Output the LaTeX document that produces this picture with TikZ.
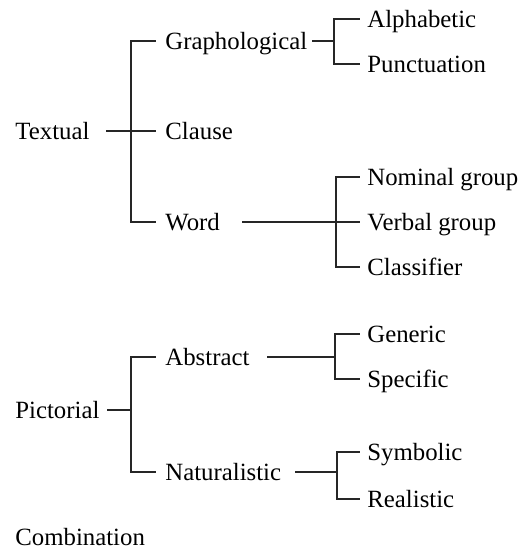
\documentclass[tikz,border=0pt]{standalone}
\usepackage{fontspec}
\setmainfont{Liberation Serif}
\begin{document}
\begin{tikzpicture}[x=0.5pt,y=-0.5pt,
  lbl/.style={anchor=west, inner sep=0pt, text height=8.2pt, text depth=0pt,
              font=\fontsize{12.4}{14}\selectfont},
  link/.style={line width=0.8pt, black!85, line cap=rect}]
\useasboundingbox[fill=white] (0,0) rectangle (523,549);

% textual branch
\node[lbl] (textual) at (15,131) {Textual};
\node[lbl] (grapho)  at (165,41)  {Graphological};
\node[lbl] (clause)  at (165,131) {Clause};
\node[lbl] (word)    at (165,222) {Word};
\node[lbl] (alpha)   at (367,19)  {Alphabetic};
\node[lbl] (punct)   at (367,64)  {Punctuation};
\node[lbl] (nominal) at (367,177) {Nominal group};
\node[lbl] (verbal)  at (367,222) {Verbal group};
\node[lbl] (classif) at (367,267) {Classifier};

% pictorial branch
\node[lbl] (pictorial) at (15,410)  {Pictorial};
\node[lbl] (abstract)  at (165,357) {Abstract};
\node[lbl] (natur)     at (165,472) {Naturalistic};
\node[lbl] (generic)   at (367,334) {Generic};
\node[lbl] (specific)  at (367,379) {Specific};
\node[lbl] (symbolic)  at (367,452) {Symbolic};
\node[lbl] (realistic) at (367,499) {Realistic};

\node[lbl] (combination) at (15,537) {Combination};

% junction points of the brackets
\coordinate (jT) at (131,131);
\coordinate (jG) at (334,41);
\coordinate (jW) at (336,222);
\coordinate (jP) at (131,410);
\coordinate (jA) at (335,357);
\coordinate (jN) at (337,472);

% textual connectors
\draw[link] ([xshift=8.7pt]textual.east) -- (jT);
\draw[link] (jT) |- ([xshift=-5pt]grapho.west);
\draw[link] (jT) -- ([xshift=-5pt]clause.west);
\draw[link] (jT) |- ([xshift=-5pt]word.west);

\draw[link] ([xshift=2.8pt]grapho.east) -- (jG);
\draw[link] (jG) |- ([xshift=-4pt]alpha.west);
\draw[link] (jG) |- ([xshift=-4pt]punct.west);

\draw[link] ([xshift=11.2pt]word.east) -- (jW);
\draw[link] (jW) |- ([xshift=-4pt]nominal.west);
\draw[link] (jW) -- ([xshift=-4pt]verbal.west);
\draw[link] (jW) |- ([xshift=-4pt]classif.west);

% pictorial connectors
\draw[link] ([xshift=4pt]pictorial.east) -- (jP);
\draw[link] (jP) |- ([xshift=-5pt]abstract.west);
\draw[link] (jP) |- ([xshift=-5pt]natur.west);

\draw[link] ([xshift=9pt]abstract.east) -- (jA);
\draw[link] (jA) |- ([xshift=-4pt]generic.west);
\draw[link] (jA) |- ([xshift=-4pt]specific.west);

\draw[link] ([xshift=7.2pt]natur.east) -- (jN);
\draw[link] (jN) |- ([xshift=-4pt]symbolic.west);
\draw[link] (jN) |- ([xshift=-4pt]realistic.west);
\end{tikzpicture}
\end{document}
